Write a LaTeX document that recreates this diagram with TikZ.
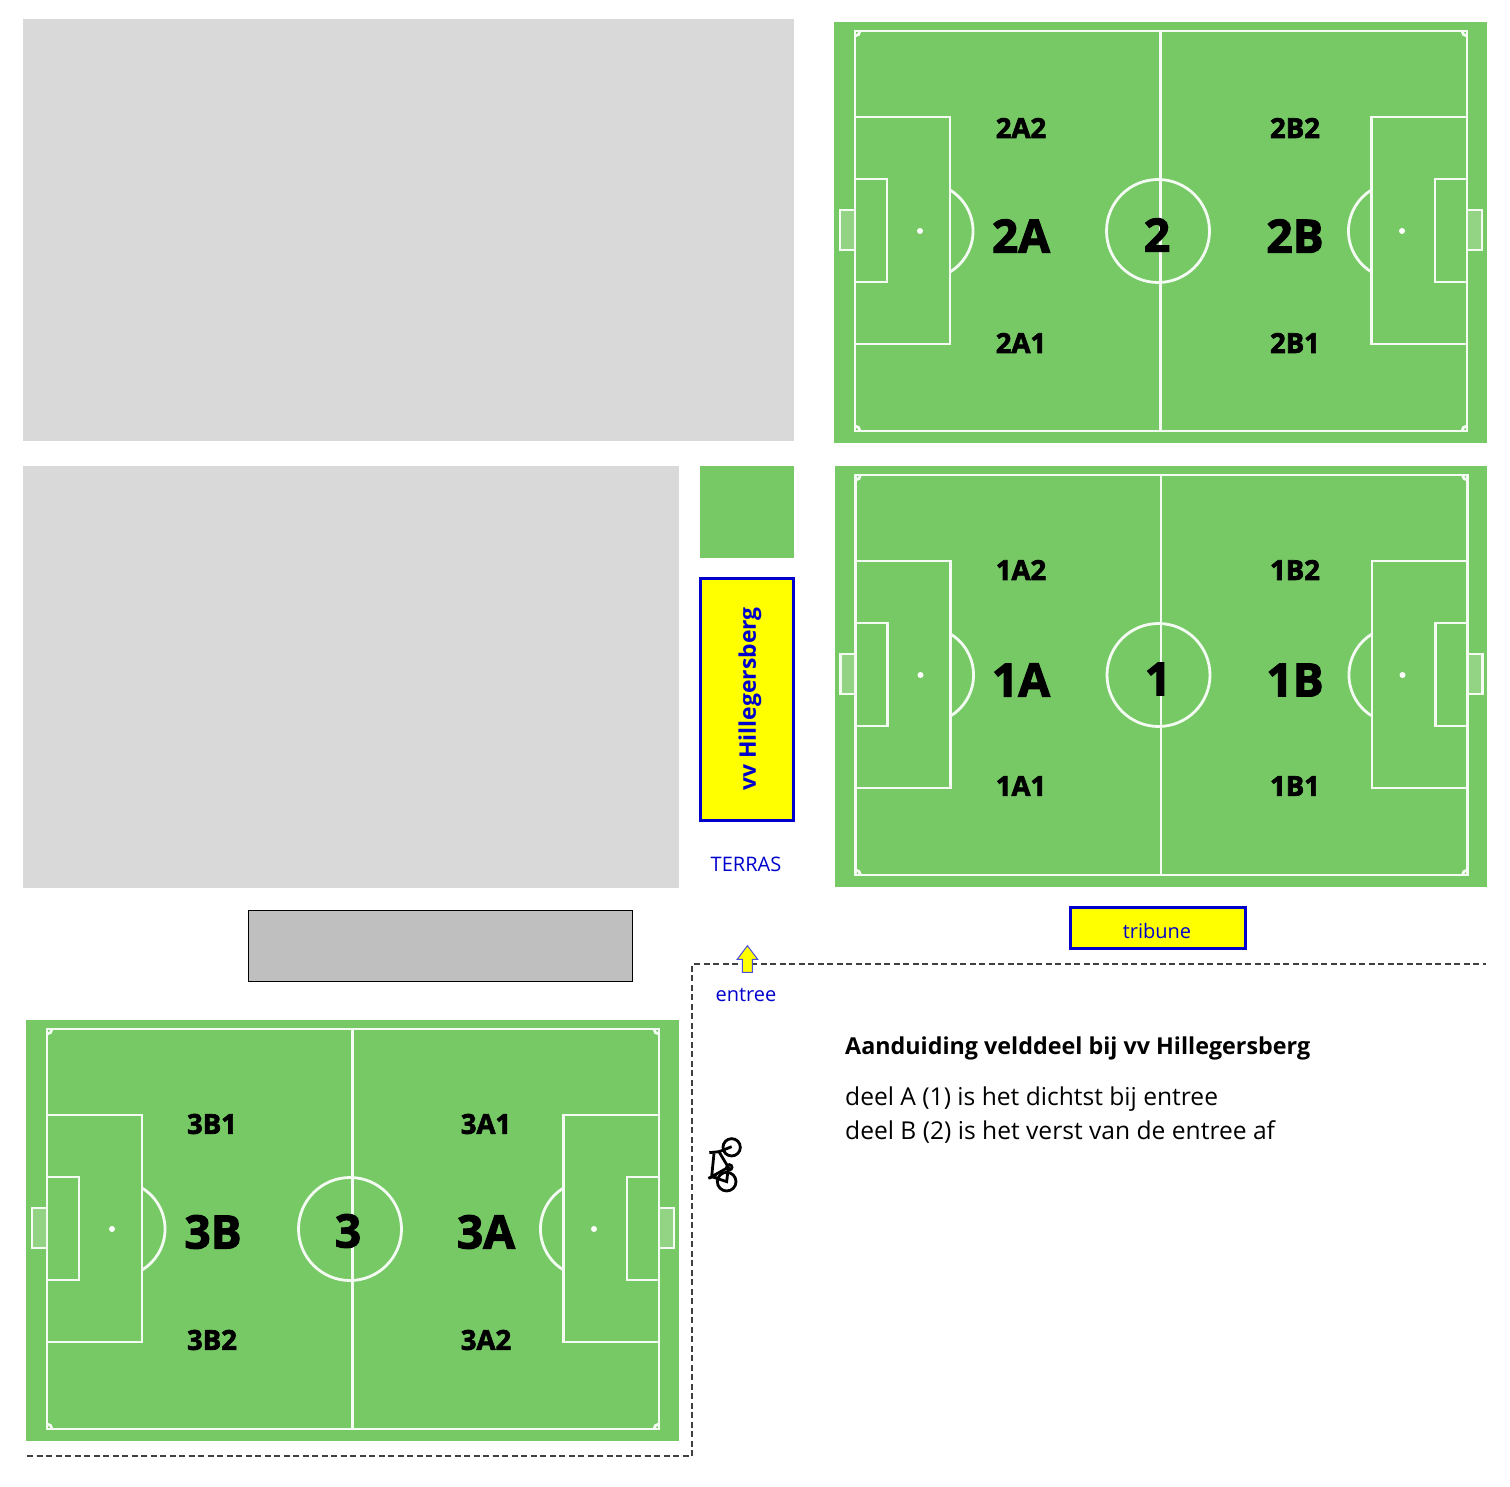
\documentclass[tikz,border=0pt]{standalone}
\usepackage{fontspec}
\setmainfont{Open Sans}
\newfontfamily\blackfont[FakeBold=2.5]{Open Sans Bold}
\definecolor{fieldgreen}{HTML}{77C966}
\definecolor{plotgrey}{HTML}{D9D9D9}
\definecolor{stonegrey}{HTML}{BFBFBF}
\definecolor{signblue}{HTML}{0000CC}
\definecolor{signyellow}{HTML}{FFFF00}
\tikzset{
  fieldline/.style={draw=white!92!fieldgreen, line width=2.8pt},
  plot/.style={fill=plotgrey},
  bigpart/.style={font=\blackfont\fontsize{46}{50}\selectfont},
  smallpart/.style={font=\blackfont\fontsize{27.5}{30}\selectfont},
  signtext/.style={text=signblue, font=\fontsize{20}{24}\selectfont},
  infotext/.style={anchor=base west, inner sep=0pt, font=\fontsize{24.6}{28}\selectfont},
  pitch/.pic={
    \fill[fieldgreen] (0,0) rectangle (652.5,421);
    \fill[white, opacity=0.2] (6,188) rectangle (21,228);
    \fill[white, opacity=0.2] (633,188) rectangle (648,228);
    % lines
    \draw[fieldline] (21,9) rectangle (633,409);
    \draw[fieldline] (326.5,9) -- (326.5,409);
    \draw[fieldline] (324,209) circle[radius=51.5];
    % left half
    \draw[fieldline] (21,95) rectangle (116,322);
    \draw[fieldline] (21,157) rectangle (53,260);
    \draw[fieldline] (6,188) rectangle (21,228);
    \fill[white] (86,209) circle[radius=3];
    \draw[fieldline] (116,168) arc[start angle=-58.7, end angle=58.7, radius=48];
    % right half
    \draw[fieldline] (537.5,95) rectangle (633,322);
    \draw[fieldline] (601,157) rectangle (633,260);
    \draw[fieldline] (633,188) rectangle (648,228);
    \fill[white] (568,209) circle[radius=3];
    \draw[fieldline] (537.5,250) arc[start angle=121.3, end angle=238.7, radius=48];
    % corners
    \draw[fieldline] (26,9) arc[start angle=0, end angle=90, radius=5];
    \draw[fieldline] (628,9) arc[start angle=180, end angle=90, radius=5];
    \draw[fieldline] (26,409) arc[start angle=0, end angle=-90, radius=5];
    \draw[fieldline] (628,409) arc[start angle=180, end angle=270, radius=5];
  }
}

\begin{document}
\begin{tikzpicture}[x=1pt, y=-1pt]
  \useasboundingbox (0,0) rectangle (1510,1487);

  % Grey plots
  \fill[plot] (23,19) rectangle (794,441);
  \fill[plot] (23,466) rectangle (679,888);
  \draw[fill=stonegrey, line width=0.8pt] (248,910) rectangle (632.5,981.5);
  \fill[fieldgreen] (700,466) rectangle (794,558);

  % Pitches
  \pic at (834,22) {pitch};
  \pic at (834.5,466) {pitch};
  \pic at (26,1020) {pitch};

  % Pitch 2
  \node[smallpart] (p2a2) at (1021,128) {2A2};
  \node[smallpart] (p2b2) at (1295,128) {2B2};
  \node[bigpart] (p2a) at (1021,236) {2A};
  \node[bigpart] (p2) at (1157,235) {2};
  \node[bigpart] (p2b) at (1295,236) {2B};
  \node[smallpart] (p2a1) at (1021,343) {2A1};
  \node[smallpart] (p2b1) at (1295,343) {2B1};

  % Pitch 1
  \node[smallpart] (p1a2) at (1021,570) {1A2};
  \node[smallpart] (p1b2) at (1295,570) {1B2};
  \node[bigpart] (p1a) at (1021,680) {1A};
  \node[bigpart] (p1) at (1158,679) {1};
  \node[bigpart] (p1b) at (1295,680) {1B};
  \node[smallpart] (p1a1) at (1021,786) {1A1};
  \node[smallpart] (p1b1) at (1295,786) {1B1};

  % Pitch 3
  \node[smallpart] (p3b1) at (212,1124) {3B1};
  \node[smallpart] (p3a1) at (486,1124) {3A1};
  \node[bigpart] (p3b) at (213,1232) {3B};
  \node[bigpart] (p3) at (348,1231) {3};
  \node[bigpart] (p3a) at (486,1232) {3A};
  \node[smallpart] (p3b2) at (212,1340) {3B2};
  \node[smallpart] (p3a2) at (486,1340) {3A2};

  % Club sign and stand
  \node[draw=signblue, fill=signyellow, line width=2.2pt, minimum width=93pt, minimum height=242pt, inner sep=0pt] (clubsign) at (747,699.5) {};
  \node[rotate=90, text=signblue, font=\bfseries\fontsize{22.9}{28}\selectfont] (clubname) at (750,699) {vv Hillegersberg};
  \node[signtext] (terras) at (746,864) {TERRAS};
  \node[draw=signblue, fill=signyellow, line width=2.2pt, minimum width=175pt, minimum height=41pt, inner sep=0pt] (tribunebox) at (1158,928) {};
  \node[signtext] (tribune) at (1157,931) {tribune};

  % Route
  \coordinate (routestart) at (27,1456);
  \coordinate (routelow) at (692,1456);
  \coordinate (routehigh) at (692,964);
  \coordinate (routeend) at (1486,964);
  \draw[line width=1.4pt, black!75, dash pattern=on 6pt off 3.5pt] (routestart) -- (routelow) -- (routehigh) -- (routeend);
  \draw[draw=signblue!70, fill=signyellow, line width=1pt] (747.4,945.7) -- (757.7,959.3) -- (752.3,959.3) -- (752.3,972.3) -- (742.3,972.3) -- (742.3,959.3) -- (737.2,959.3) -- cycle;
  \node[signtext] (entree) at (746,995) {entree};

  % Text
  \node[infotext, font=\bfseries\fontsize{23.3}{28}\selectfont] (infohead) at (845,1054) {Aanduiding velddeel bij vv Hillegersberg};
  \node[infotext] (infoa) at (845,1105) {deel A (1) is het dichtst bij entree};
  \node[infotext] (infob) at (845,1139) {deel B (2) is het verst van de entree af};

  % Bicycle
  \begin{scope}[shift={(690,930)}, x=0.3333pt, y=-0.3333pt, line width=2.8pt]
    \draw (125,652) circle[radius=26];
    \draw (110,755) circle[radius=28];
    \draw (125,650) -- (88,665) -- (58,668);
    \draw (72,670) -- (65,740) -- (115,712) -- (85,662);
    \draw (65,740) -- (110,755) -- (115,712);
    \draw (55,745) -- (80,735);
    \draw (118,712) circle[radius=8];
  \end{scope}
\end{tikzpicture}
\end{document}
